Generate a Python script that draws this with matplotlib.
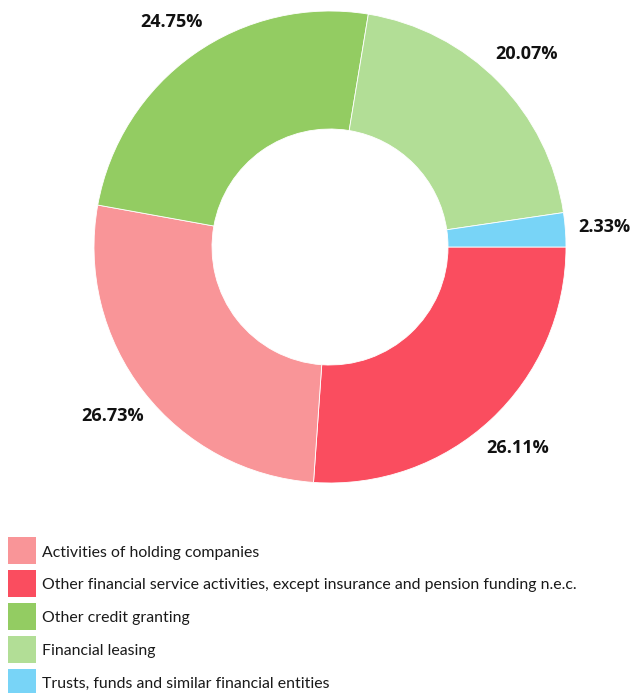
import matplotlib
matplotlib.use("Agg")
import matplotlib.pyplot as plt
from matplotlib.patches import Rectangle

# Legend order
categories = [
    "Activities of holding companies",
    "Other financial service activities, except insurance and pension funding n.e.c.",
    "Other credit granting",
    "Financial leasing",
    "Trusts, funds and similar financial entities",
]
shares = [26.73, 26.11, 24.75, 20.07, 2.33]
colors = ["#F99598", "#FA4D5F", "#93CC62", "#B2DE96", "#78D4F7"]

# Drawing order, clockwise from 3 o'clock
pie_order = [1, 0, 2, 3, 4]

W, H = 632, 693
fig = plt.figure(figsize=(W / 100, H / 100), dpi=100)
ax = fig.add_axes([0, 0, 1, 1])

R = 236
vals = [shares[i] for i in pie_order]
cols = [colors[i] for i in pie_order]
labels = ["%.2f%%" % v for v in vals]

wedges, texts = ax.pie(
    vals,
    colors=cols,
    labels=labels,
    labeldistance=1.165,
    startangle=0,
    counterclock=False,
    center=(330, H - 247),
    radius=R,
    wedgeprops=dict(width=118, edgecolor="white", linewidth=0.6),
    textprops=dict(fontsize=13, fontweight="bold", family="Open Sans", color="#111111"),
    frame=True,
)
for t in texts:
    t.set_ha("center")
    t.set_va("center")
ax.set_xlim(0, W)
ax.set_ylim(0, H)
ax.set_aspect("equal")
ax.axis("off")

# legend, drawn by hand in pixel space (y measured from the top)
row0, pitch = 550.5, 32.9
for i, (cat, col) in enumerate(zip(categories, colors)):
    yc = row0 + pitch * i
    ax.add_patch(Rectangle((8, H - yc - 13.5), 28, 27, facecolor=col,
                           edgecolor="none"))
    ax.text(42, H - yc - 2, cat, fontsize=11.4, family="Lato",
            color="#1a1a1a", ha="left", va="center")

fig.savefig("out.png", dpi=100)
